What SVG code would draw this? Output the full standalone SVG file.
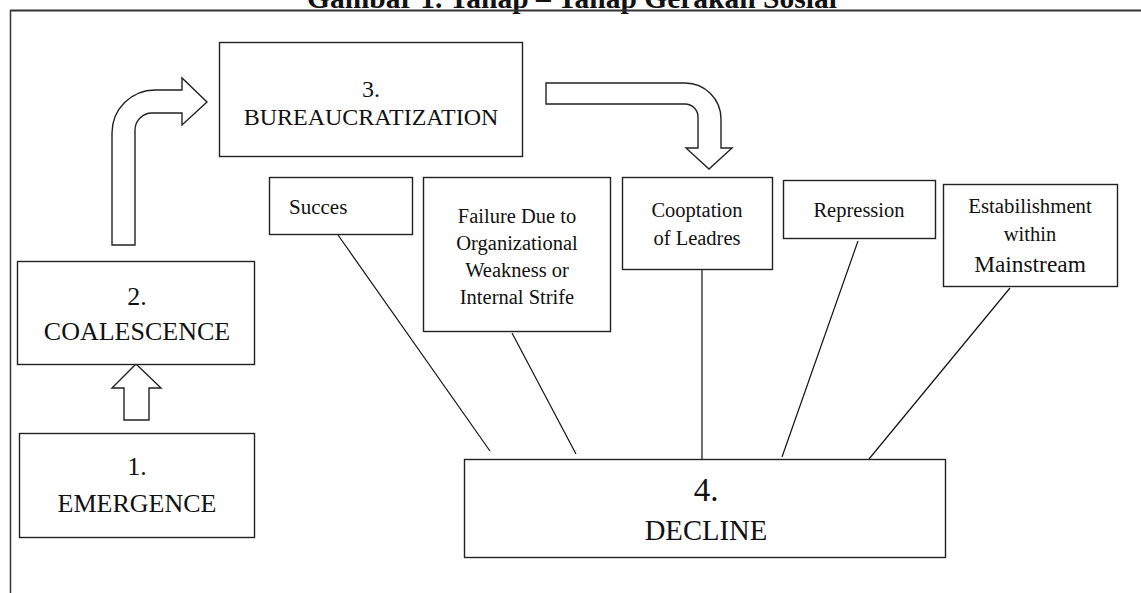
<svg xmlns="http://www.w3.org/2000/svg" width="1141" height="593" viewBox="0 0 1141 593">
<style>
.box{fill:#fff;stroke:#222;stroke-width:1.4}
.arr{fill:#fff;stroke:#222;stroke-width:1.4;stroke-linejoin:miter}
.ln{stroke:#111;stroke-width:1.2;fill:none}
.t{font-family:"Liberation Serif","Times New Roman",serif;fill:#111;text-anchor:middle}
.s20{font-size:20.5px}
.s23{font-size:24px}
.s26{font-size:26px}
</style>
<rect width="1141" height="593" fill="#fff"/>
<g id="frame">
<text x="307" y="7.5" font-family="Liberation Serif, serif" font-weight="bold" font-size="29.5" fill="#111">Gambar 1. Tahap – Tahap Gerakan Sosial</text>
<line x1="10" y1="10.5" x2="1141" y2="10.5" stroke="#333" stroke-width="2"/>
<line x1="10.5" y1="10" x2="10.5" y2="593" stroke="#333" stroke-width="1.5"/>
</g>
<g id="connectors">
<path class="arr" d="M112,245 L112,133 A43,43 0 0 1 155,90 L182,90 L182,78 L207,102 L182,125 L182,113 L152,113 A17,17 0 0 0 135,130 L135,245 Z"/>
<path class="arr" d="M546,83 L685,83 A36,36 0 0 1 721,119 L721,148 L732,148 L709,169 L686,148 L698,148 L698,117 A13,13 0 0 0 685,104 L546,104 Z"/>
<path class="arr" d="M136,364 L161,388 L149,388 L149,420 L124,420 L124,388 L112,388 Z"/>
<line class="ln" x1="338" y1="235" x2="490" y2="451"/>
<line class="ln" x1="512" y1="333" x2="576" y2="454"/>
<line class="ln" x1="702" y1="269" x2="702" y2="459"/>
<line class="ln" x1="858" y1="241" x2="782" y2="457"/>
<line class="ln" x1="1010" y1="288" x2="869" y2="459"/>
</g>
<g id="n3">
<rect class="box" x="219.5" y="42.5" width="303" height="114"/>
<text class="t s23" x="371" y="97">3.</text>
<text class="t s23" x="371" y="125">BUREAUCRATIZATION</text>
</g>
<g id="n2">
<rect class="box" x="17.5" y="261.5" width="237" height="103"/>
<text class="t s26" x="137" y="305">2.</text>
<text class="t s26" x="137" y="340">COALESCENCE</text>
</g>
<g id="n1">
<rect class="box" x="19.5" y="433.5" width="235" height="104"/>
<text class="t s26" x="137" y="475">1.</text>
<text class="t s26" x="137" y="512">EMERGENCE</text>
</g>
<g id="n4">
<rect class="box" x="464.5" y="459.5" width="481" height="98"/>
<text class="t" font-size="33" x="706" y="501">4.</text>
<text class="t" font-size="28.7" x="706" y="540">DECLINE</text>
</g>
<g id="succes">
<rect class="box" x="269.5" y="177.5" width="143" height="57"/>
<text class="t" font-size="21" x="289" y="214" style="text-anchor:start">Succes</text>
</g>
<g id="failure">
<rect class="box" x="423.5" y="177.5" width="187" height="154"/>
<text class="t s20" x="517" y="223">Failure Due to</text>
<text class="t s20" x="517" y="250">Organizational</text>
<text class="t s20" x="517" y="277">Weakness or</text>
<text class="t s20" x="517" y="304">Internal Strife</text>
</g>
<g id="cooptation">
<rect class="box" x="622.5" y="177.5" width="150" height="92"/>
<text class="t s20" x="697" y="217">Cooptation</text>
<text class="t s20" x="697" y="245">of Leadres</text>
</g>
<g id="repression">
<rect class="box" x="783.5" y="180.5" width="152" height="58"/>
<text class="t s20" x="859" y="217">Repression</text>
</g>
<g id="establishment">
<rect class="box" x="943.5" y="184.5" width="174" height="102"/>
<text class="t" font-size="20.8" x="1030" y="213">Estabilishment</text>
<text class="t s20" x="1030" y="241">within</text>
<text class="t" font-size="23.4" x="1030" y="272">Mainstream</text>
</g>
</svg>
